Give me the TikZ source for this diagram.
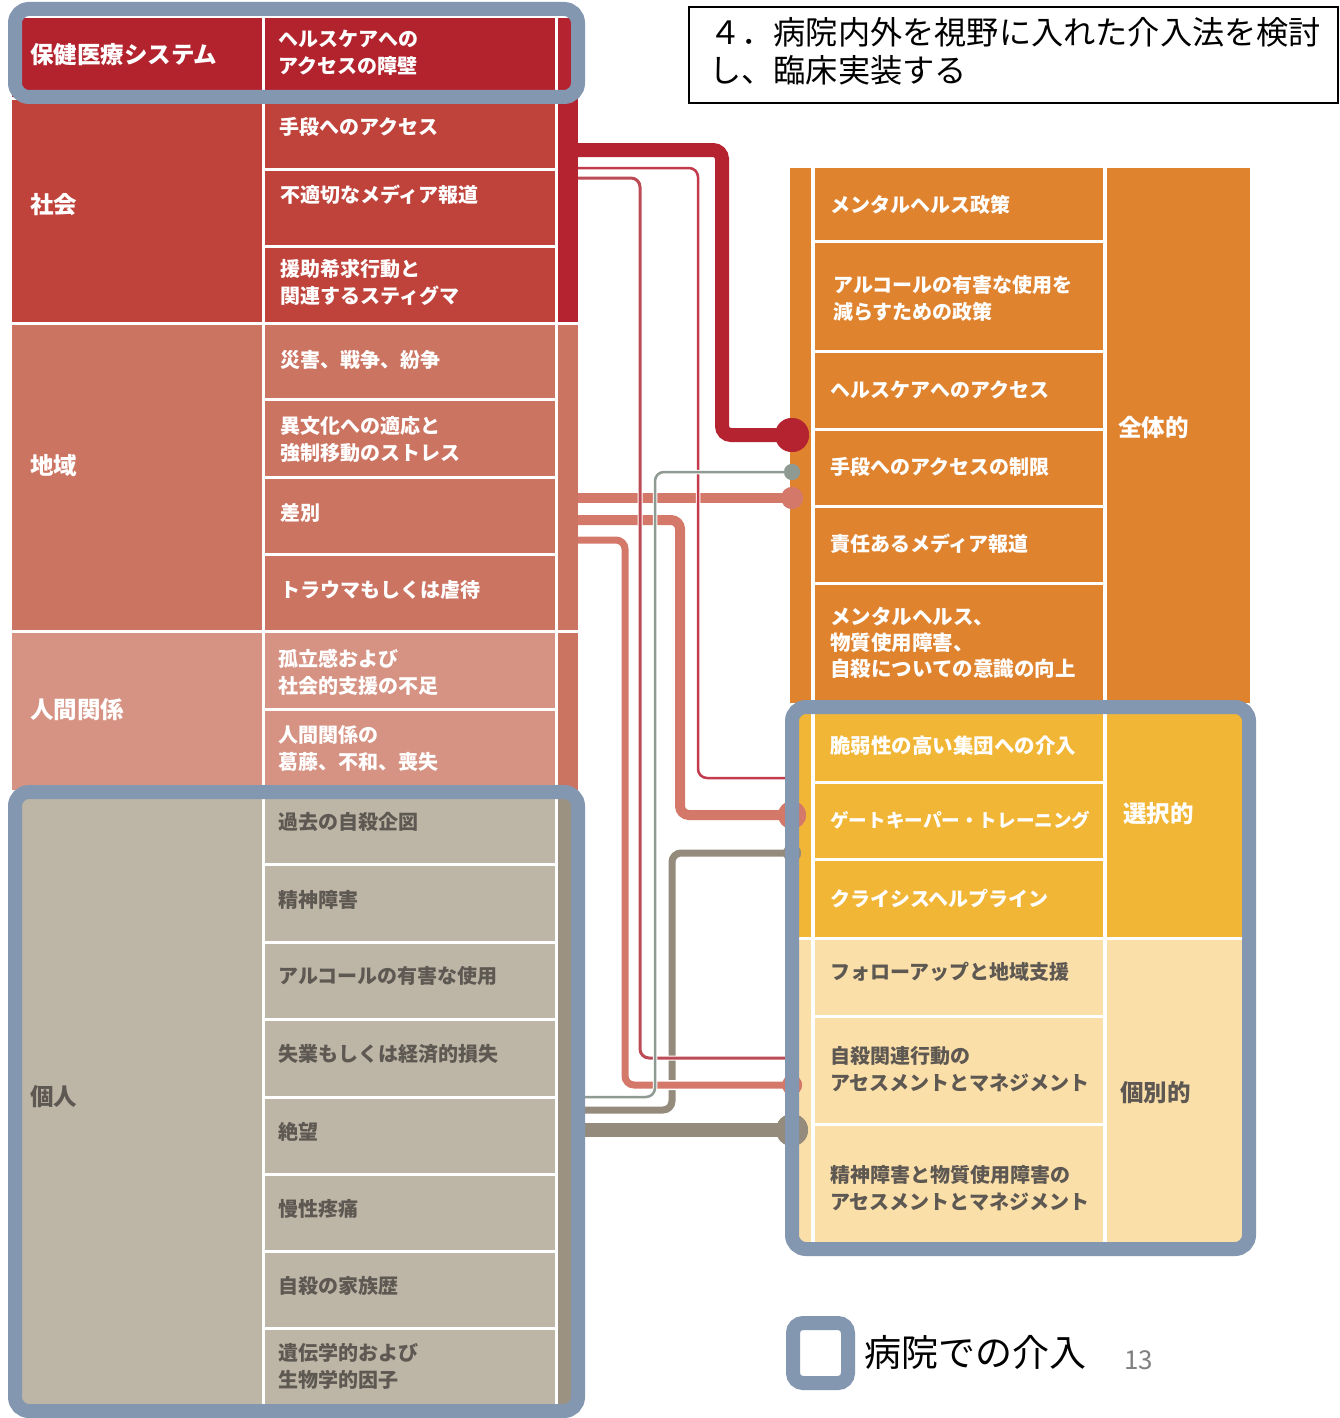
\documentclass[tikz,border=0pt]{standalone}
\usepackage{fontspec}
\setmainfont{Noto Sans CJK JP}
\definecolor{cHoken}{HTML}{B3232E}
\definecolor{cShakai}{HTML}{C0433B}
\definecolor{cRed}{HTML}{B52330}
\definecolor{cChiiki}{HTML}{CC7462}
\definecolor{cNingen}{HTML}{D69383}
\definecolor{cKojin}{HTML}{BDB5A5}
\definecolor{cKojinTrunk}{HTML}{9C9282}
\definecolor{cZentai}{HTML}{E0832F}
\definecolor{cSentaku}{HTML}{F2B636}
\definecolor{cKobetsu}{HTML}{FBDFA9}
\definecolor{hospblue}{HTML}{8497B0}
\definecolor{txtdark}{HTML}{5E5853}
\definecolor{lnRed}{HTML}{C23A4C}
\definecolor{lnMauve}{HTML}{BD4B55}
\definecolor{lnGray}{HTML}{8F9A92}
\definecolor{lnSalmon}{HTML}{D4796A}
\definecolor{lnBrown}{HTML}{948B7C}
\begin{document}
\begin{tikzpicture}[x=1pt,y=-1pt,
  wtxt/.style={text=white, font=\bfseries\fontsize{20}{27}\selectfont, anchor=west, inner sep=0pt, align=left},
  dtxt/.style={wtxt, text=txtdark},
  wcat/.style={text=white, font=\bfseries\fontsize{23.5}{28}\selectfont, anchor=west, inner sep=0pt},
  dcat/.style={wcat, text=txtdark},
  sepline/.style={white, line width=3pt},
  hosp/.style={draw=hospblue, line width=14pt, rounded corners=14pt},
  conn/.style n args={3}{draw=#1, line width=#2, rounded corners=9pt, preaction={draw=white, line width=#3}},
  dot/.style={circle, fill=#1, inner sep=0pt, draw=none}
]
\useasboundingbox (0,0) rectangle (1340,1418);
\fill[white] (0,0) rectangle (1340,1418);

% ---------- left block ----------
\fill[cHoken] (12,18) rectangle (578,97);
\fill[cShakai] (12,100) rectangle (555,322);
\fill[cRed] (558,18) rectangle (578,322);
\fill[cChiiki] (12,325) rectangle (578,630);
\fill[cNingen] (12,633) rectangle (555,790);
\fill[cChiiki] (558,633) rectangle (578,790);
\fill[cKojin] (12,795) rectangle (578,1405);
\fill[cKojinTrunk] (558,795) rectangle (578,1405);
\draw[sepline] (263.5,18) -- (263.5,1405);
\draw[sepline] (556.5,18) -- (556.5,1405);
\foreach \yy in {169,246.5,399.5,477.5,554.5,709.5,864,942,1019.5,1097,1174.5,1251.5,1328.5}
  \draw[sepline] (263,\yy) -- (557,\yy);

% ---------- right block ----------
\fill[cZentai] (790,168) rectangle (1250,703);
\fill[cSentaku] (790,710) rectangle (1250,937);
\fill[cKobetsu] (790,940) rectangle (1250,1243);
\draw[white, line width=4pt] (812.5,168) -- (812.5,1243);
\draw[white, line width=4pt] (1105,168) -- (1105,1243);
\foreach \yy in {241.5,351.5,429.5,506.5,583.5,782,859,1016.5,1124}
  \draw[sepline] (812,\yy) -- (1105,\yy);

% ---------- left texts ----------
\node[wcat] (c0) at (30,55) {保健医療システム};
\node[wtxt] (l0) at (278,53) {ヘルスケアへの\\アクセスの障壁};
\node[wcat] (c1) at (30,205) {社会};
\node[wtxt] (l1) at (279,127) {手段へのアクセス};
\node[wtxt] (l2) at (280,195) {不適切なメディア報道};
\node[wtxt] (l3) at (280,282) {援助希求行動と\\関連するスティグマ};
\node[wcat] (c2) at (30,466) {地域};
\node[wtxt] (l4) at (280,360) {災害、戦争、紛争};
\node[wtxt] (l5) at (280,439) {異文化への適応と\\強制移動のストレス};
\node[wtxt] (l6) at (280,513) {差別};
\node[wtxt] (l7) at (280,590) {トラウマもしくは虐待};
\node[wcat] (c3) at (30,710) {人間関係};
\node[wtxt] (l8) at (278,672) {孤立感および\\社会的支援の不足};
\node[wtxt] (l9) at (278,748) {人間関係の\\葛藤、不和、喪失};
\node[dcat] (c4) at (30,1097) {個人};
\node[dtxt] (l10) at (278,822) {過去の自殺企図};
\node[dtxt] (l11) at (278,900) {精神障害};
\node[dtxt] (l12) at (278,976) {アルコールの有害な使用};
\node[dtxt] (l13) at (278,1054) {失業もしくは経済的損失};
\node[dtxt] (l14) at (278,1132) {絶望};
\node[dtxt] (l15) at (278,1209) {慢性疼痛};
\node[dtxt] (l16) at (278,1286) {自殺の家族歴};
\node[dtxt] (l17) at (278,1366) {遺伝学的および\\生物学的因子};

% ---------- right texts ----------
\node[wtxt] (r1) at (830,205) {メンタルヘルス政策};
\node[wtxt] (r2) at (833,298) {アルコールの有害な使用を\\減らすための政策};
\node[wtxt] (r3) at (830,390) {ヘルスケアへのアクセス};
\node[wtxt] (r4) at (830,467) {手段へのアクセスの制限};
\node[wtxt] (r5) at (830,544) {責任あるメディア報道};
\node[wtxt, font=\bfseries\fontsize{20.5}{26}\selectfont] (r6) at (830,643) {メンタルヘルス、\\物質使用障害、\\自殺についての意識の向上};
\node[wcat] (k1) at (1118,427) {全体的};
\node[wtxt, font=\bfseries\fontsize{20.5}{27}\selectfont] (r7) at (830,746) {脆弱性の高い集団への介入};
\node[wtxt, font=\bfseries\fontsize{18.6}{27}\selectfont] (r8) at (830,820) {ゲートキーパー・トレーニング};
\node[wtxt] (r9) at (830,899) {クライシスヘルプライン};
\node[wcat] (k2) at (1123,814) {選択的};
\node[dtxt] (r10) at (830,972) {フォローアップと地域支援};
\node[dtxt] (r11) at (830,1069) {自殺関連行動の\\アセスメントとマネジメント};
\node[dtxt] (r12) at (830,1188) {精神障害と物質使用障害の\\アセスメントとマネジメント};
\node[dcat] (k3) at (1120,1093) {個別的};

% ---------- connector ends ----------
\coordinate (s1) at (578,150);
\coordinate (s2) at (578,168);
\coordinate (s3) at (578,178);
\coordinate (s4) at (578,1097);
\coordinate (s5) at (578,498);
\coordinate (s6) at (578,520);
\coordinate (s7) at (578,540);
\coordinate (s8) at (578,1110);
\coordinate (s9) at (578,1130);
\node[dot=cRed, minimum size=34pt] (d1) at (792,435) {};
\coordinate (d2) at (792,778);
\node[dot=lnMauve, minimum size=9pt] (d3) at (792,1058) {};
\node[dot=lnGray, minimum size=16pt] (d4) at (792,472) {};
\node[dot=lnSalmon, minimum size=22pt] (d5) at (792,498) {};
\node[dot=lnSalmon, minimum size=28pt] (d6) at (792,815) {};
\node[dot=lnSalmon, minimum size=20pt] (d7) at (792,1085) {};
\node[dot=lnBrown, minimum size=18pt] (d8) at (792,853) {};
\node[dot=lnBrown, minimum size=32pt] (d9) at (792,1130) {};

% ---------- connectors ----------
\draw[conn={lnBrown}{14pt}{17pt}] (s9) -- (d9.center);
\draw[conn={lnBrown}{7pt}{10pt}] (s8) -- ++(94,0) |- (d8.center);
\draw[conn={lnSalmon}{10pt}{13pt}] (s6) -- ++(102,0) |- (d6.center);
\draw[conn={lnSalmon}{10pt}{13pt}] (s5) -- (d5.center);
\draw[conn={lnSalmon}{7pt}{10pt}] (s7) -- ++(47,0) |- (d7.center);
\draw[conn={cRed}{14pt}{17pt}] (s1) -- ++(144,0) |- (d1.center);
\draw[conn={lnMauve}{3pt}{5pt}] (s3) -- ++(62,0) |- (d3.center);
\draw[conn={lnRed}{2.5pt}{4.5pt}] (s2) -- ++(120,0) |- (d2);
\draw[conn={lnGray}{2.5pt}{4.5pt}] (s4) -- ++(77,0) |- (d4.center);
\node[dot=cRed, minimum size=34pt] at (d1) {};
\node[dot=lnGray, minimum size=16pt] at (d4) {};
\node[dot=lnSalmon, minimum size=22pt] at (d5) {};
\node[dot=lnSalmon, minimum size=28pt] at (d6) {};
\node[dot=lnSalmon, minimum size=20pt] at (d7) {};
\node[dot=lnBrown, minimum size=18pt] at (d8) {};
\node[dot=lnBrown, minimum size=32pt] at (d9) {};

% ---------- hospital outlines ----------
\draw[hosp] (15,9) rectangle (578,97);
\draw[hosp] (15,792) rectangle (578,1411);
\draw[hosp] (792,707) rectangle (1249,1249);

% ---------- title ----------
\draw[black, line width=1.5pt] (689,7) rectangle (1338,103);
\node[anchor=west, inner sep=0pt, align=left, font=\fontsize{32.2}{38}\selectfont] (title) at (709,51) {４．病院内外を視野に入れた介入法を検討\\し、臨床実装する};

% ---------- legend ----------
\draw[hosp, fill=white, rounded corners=10pt] (793,1323) rectangle (848,1383);
\node[anchor=west, inner sep=0pt, font=\fontsize{37}{40}\selectfont] (legend) at (864,1352) {病院での介入};
\node[anchor=west, inner sep=0pt, text=gray, font=\fontsize{26}{30}\selectfont] (page) at (1124,1360) {13};
\end{tikzpicture}
\end{document}
